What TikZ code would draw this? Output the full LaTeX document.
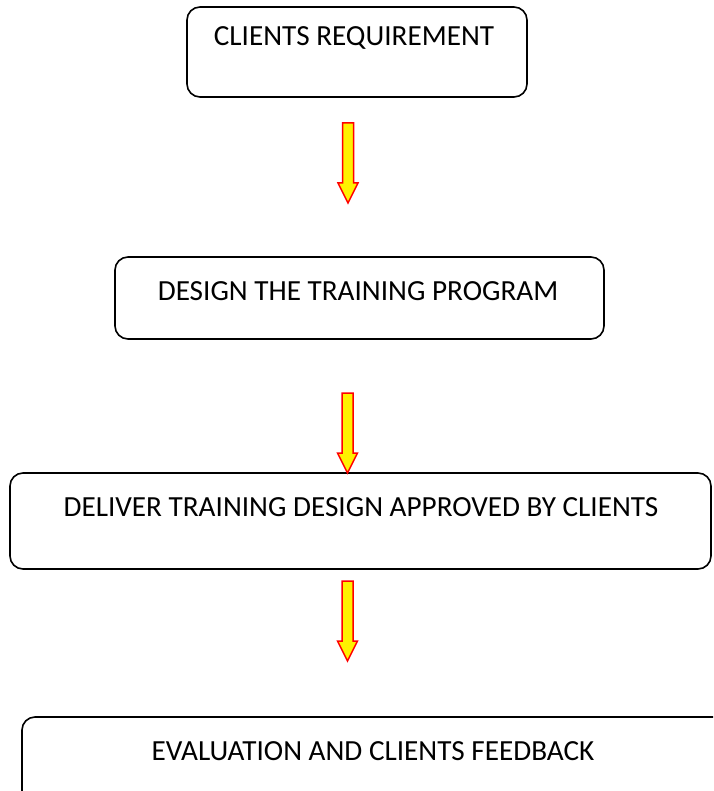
\documentclass[tikz,border=0pt]{standalone}
\usepackage{fontspec}
\setmainfont{Carlito}
\begin{document}
\begin{tikzpicture}[x=1pt,y=-1pt,
  box/.style={draw=black, line width=1.6pt, rounded corners=13pt, inner sep=0pt},
  lbl/.style={font=\fontsize{29.2}{32}\selectfont, inner sep=0pt, anchor=center},
  dnarrow/.pic={\draw[red, fill=yellow, line width=1.5pt, line join=miter]
     (-5.5,0) -- (5.5,0) -- (5.5,60) -- (10,60) -- (0,80) -- (-10,60) -- (-5.5,60) -- cycle;}]
\useasboundingbox (0,0) rectangle (713,791);
\clip (0,0) rectangle (713,791);
% boxes
\draw[box] (187,7) rectangle (527,97);
\node[lbl] (t1) at (354,38) {CLIENTS REQUIREMENT};
\draw[box] (115,257) rectangle (604,339);
\node[lbl] (t2) at (358,291) {DESIGN THE TRAINING PROGRAM};
\draw[box] (10,473) rectangle (711,569);
\node[lbl] (t3) at (361,507) {DELIVER TRAINING DESIGN APPROVED BY CLIENTS};
\draw[box] (22,717) rectangle (740,820);
\node[lbl] (t4) at (373,751) {EVALUATION AND CLIENTS FEEDBACK};
% arrows
\pic at (348,123) {dnarrow};
\pic at (347.5,393) {dnarrow};
\pic at (347.5,581) {dnarrow};
\end{tikzpicture}
\end{document}
